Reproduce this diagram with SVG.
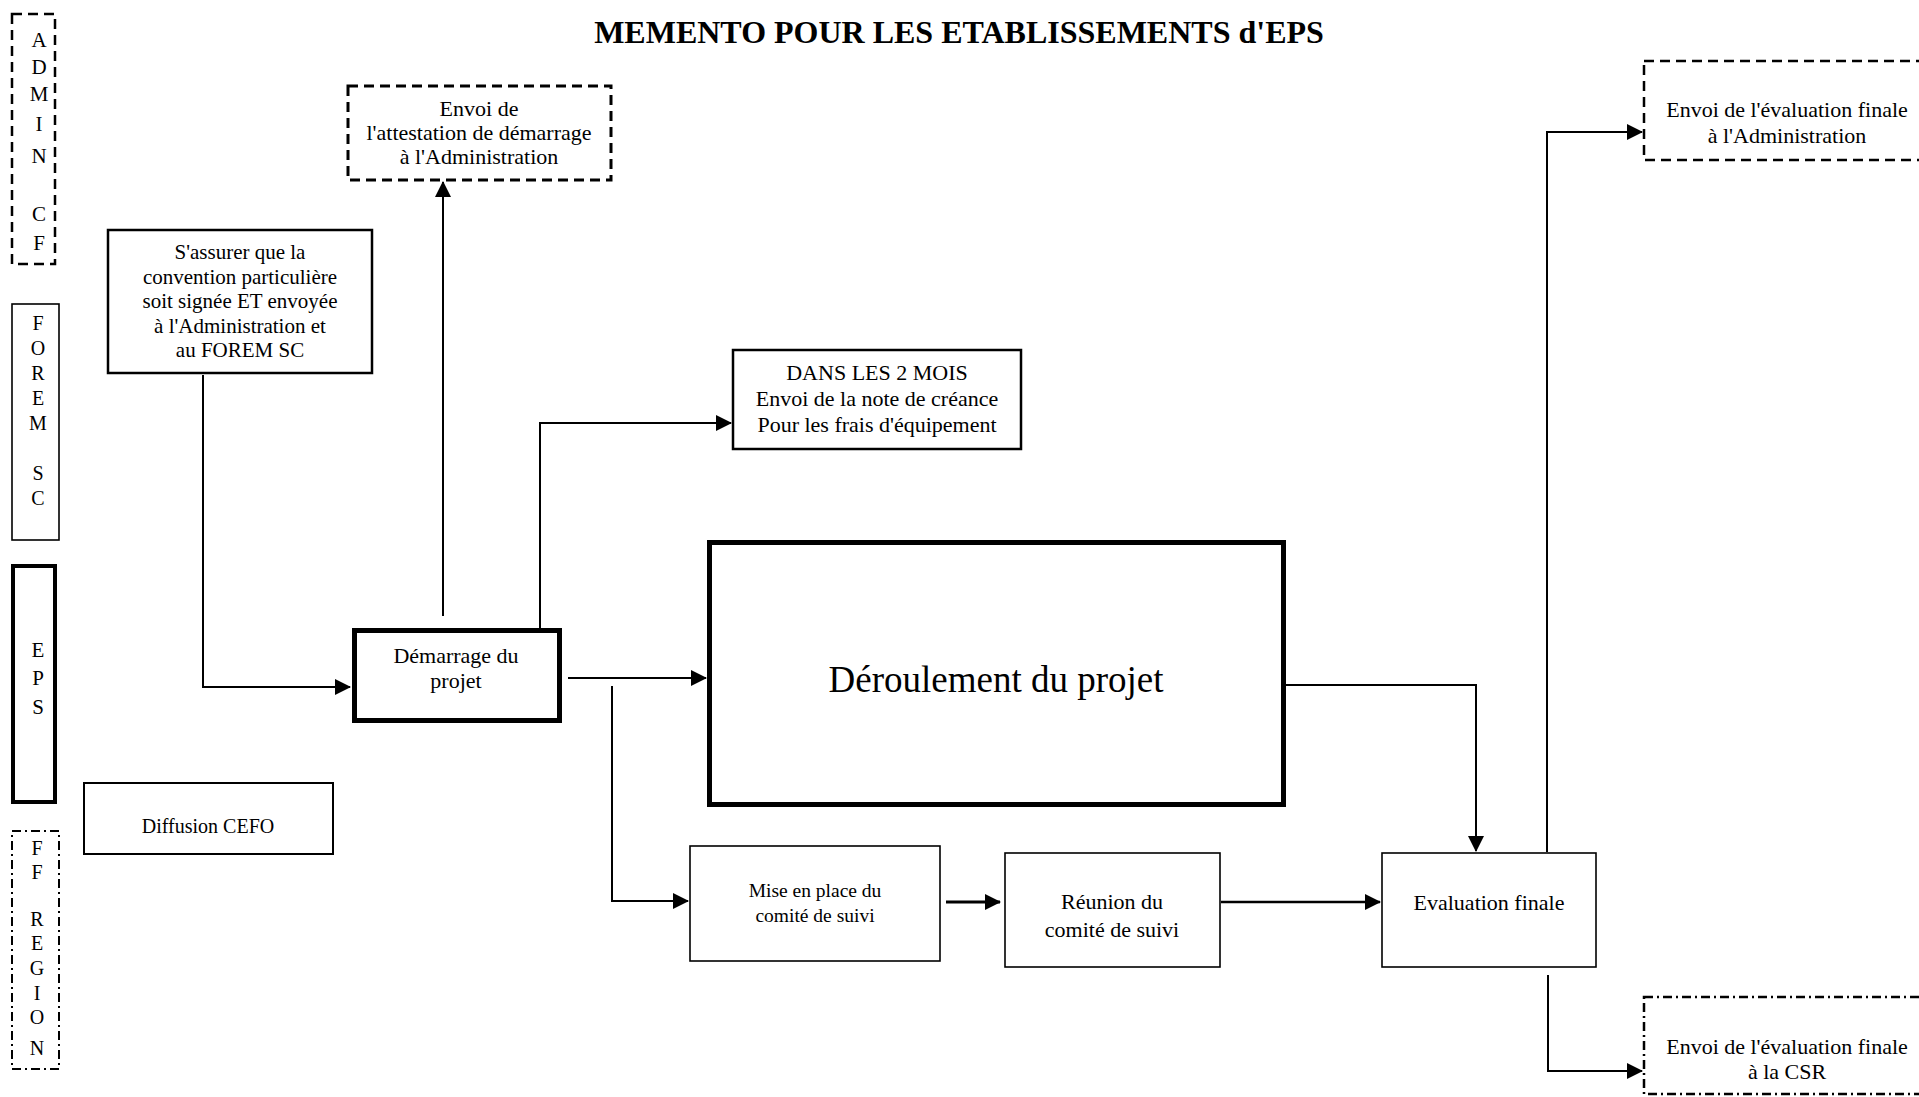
<svg xmlns="http://www.w3.org/2000/svg" width="1919" height="1097" viewBox="0 0 1919 1097">
<style>
text{font-family:"Liberation Serif","Times New Roman",serif;fill:#000;text-anchor:middle}
.t22{font-size:22px}
.t21{font-size:21px}
.t20{font-size:20px}
.lane{font-size:21px}
.box{fill:#fff;stroke:#000}
.thin{stroke-width:1.6}
.med{stroke-width:2.5}
.thick{stroke-width:5}
.dash{stroke-dasharray:10 6}
.dashdot{stroke-dasharray:9 4 2 4}
.con{fill:none;stroke:#000;stroke-width:2}
</style>
<defs>
<marker id="arr" markerUnits="userSpaceOnUse" markerWidth="16" markerHeight="16" viewBox="0 0 16 16" refX="15" refY="8" orient="auto">
<path d="M0,0 L16,8 L0,16 Z" fill="#000"/>
</marker>
</defs>
<rect width="1919" height="1097" fill="#fff"/>

<text x="959" y="43" style="font-size:32px;font-weight:bold">MEMENTO POUR LES ETABLISSEMENTS d'EPS</text>

<g id="lane-admin">
<rect class="box med dash" x="12" y="14" width="43" height="250"/>
<text class="lane" x="39" y="47">A</text>
<text class="lane" x="39" y="74">D</text>
<text class="lane" x="39" y="101">M</text>
<text class="lane" x="39" y="131">I</text>
<text class="lane" x="39" y="163">N</text>
<text class="lane" x="39" y="221">C</text>
<text class="lane" x="39" y="250">F</text>
</g>
<g id="lane-forem">
<rect class="box thin" x="12" y="304" width="47" height="236"/>
<text class="t20" x="38" y="330">F</text>
<text class="t20" x="38" y="355">O</text>
<text class="t20" x="38" y="380">R</text>
<text class="t20" x="38" y="405">E</text>
<text class="t20" x="38" y="430">M</text>
<text class="t20" x="38" y="480">S</text>
<text class="t20" x="38" y="505">C</text>
</g>
<g id="lane-eps">
<rect class="box" style="stroke-width:4" x="13" y="566" width="42" height="236"/>
<text class="lane" x="38" y="657">E</text>
<text class="lane" x="38" y="685">P</text>
<text class="lane" x="38" y="714">S</text>
</g>
<g id="lane-ff">
<rect class="box dashdot" style="stroke-width:2" x="12" y="831" width="47" height="238"/>
<text class="t20" x="37" y="855">F</text>
<text class="t20" x="37" y="879">F</text>
<text class="t20" x="37" y="926">R</text>
<text class="t20" x="37" y="950">E</text>
<text class="t20" x="37" y="975">G</text>
<text class="t20" x="37" y="1000">I</text>
<text class="t20" x="37" y="1024">O</text>
<text class="t20" x="37" y="1055">N</text>
</g>

<g id="node-attestation">
<rect class="box dash" style="stroke-width:3" x="348" y="86" width="263" height="94"/>
<text class="t22" x="479" y="116">Envoi de</text>
<text class="t22" x="479" y="140">l'attestation de démarrage</text>
<text class="t22" x="479" y="164">à l'Administration</text>
</g>
<g id="node-convention">
<rect class="box med" x="108" y="230" width="264" height="143"/>
<text class="t21" x="240" y="259">S'assurer que la</text>
<text class="t21" x="240" y="284">convention particulière</text>
<text class="t21" x="240" y="308">soit signée ET envoyée</text>
<text class="t21" x="240" y="333">à l'Administration et</text>
<text class="t21" x="240" y="357">au FOREM SC</text>
</g>
<g id="node-creance">
<rect class="box med" x="733" y="350" width="288" height="99"/>
<text class="t22" x="877" y="380">DANS LES 2 MOIS</text>
<text class="t22" x="877" y="406">Envoi de la note de créance</text>
<text class="t22" x="877" y="432">Pour les frais d'équipement</text>
</g>
<g id="node-demarrage">
<rect class="box thick" x="354.5" y="630.5" width="205" height="90"/>
<text class="t22" x="456" y="663">Démarrage du</text>
<text class="t22" x="456" y="688">projet</text>
</g>
<g id="node-deroulement">
<rect class="box thick" x="709.5" y="542.5" width="574" height="262"/>
<text x="996" y="692" style="font-size:37px">Déroulement du projet</text>
</g>
<g id="node-diffusion">
<rect class="box" style="stroke-width:2" x="84" y="783" width="249" height="71"/>
<text class="t20" x="208" y="833">Diffusion CEFO</text>
</g>
<g id="node-mise">
<rect class="box thin" x="690" y="846" width="250" height="115"/>
<text x="815" y="897" style="font-size:19.5px">Mise en place du</text>
<text x="815" y="922" style="font-size:19.5px">comité de suivi</text>
</g>
<g id="node-reunion">
<rect class="box thin" x="1005" y="853" width="215" height="114"/>
<text class="t22" x="1112" y="909">Réunion du</text>
<text class="t22" x="1112" y="937">comité de suivi</text>
</g>
<g id="node-evaluation">
<rect class="box thin" x="1382" y="853" width="214" height="114"/>
<text class="t22" x="1489" y="910">Evaluation finale</text>
</g>
<g id="node-eval-admin">
<rect class="box med dash" x="1644" y="61" width="300" height="99"/>
<text class="t22" x="1787" y="117">Envoi de l'évaluation finale</text>
<text class="t22" x="1787" y="143">à l'Administration</text>
</g>
<g id="node-eval-csr">
<rect class="box med dashdot" x="1644" y="997" width="300" height="97"/>
<text class="t22" x="1787" y="1054">Envoi de l'évaluation finale</text>
<text class="t22" x="1787" y="1079">à la CSR</text>
</g>

<g id="connectors">
<path class="con" d="M203,375 V687 H350" marker-end="url(#arr)"/>
<path class="con" d="M443,616 V182" marker-end="url(#arr)"/>
<path class="con" d="M540,628 V423 H731" marker-end="url(#arr)"/>
<path class="con" d="M568,678 H706" marker-end="url(#arr)"/>
<path class="con" d="M612,686 V901 H688" marker-end="url(#arr)"/>
<path class="con" style="stroke-width:3" d="M946,902 H1000" marker-end="url(#arr)"/>
<path class="con" style="stroke-width:2.5" d="M1221,902 H1380" marker-end="url(#arr)"/>
<path class="con" d="M1286,685 H1476 V851" marker-end="url(#arr)"/>
<path class="con" d="M1547,852 V132 H1642" marker-end="url(#arr)"/>
<path class="con" d="M1548,975 V1071 H1642" marker-end="url(#arr)"/>
</g>
</svg>
